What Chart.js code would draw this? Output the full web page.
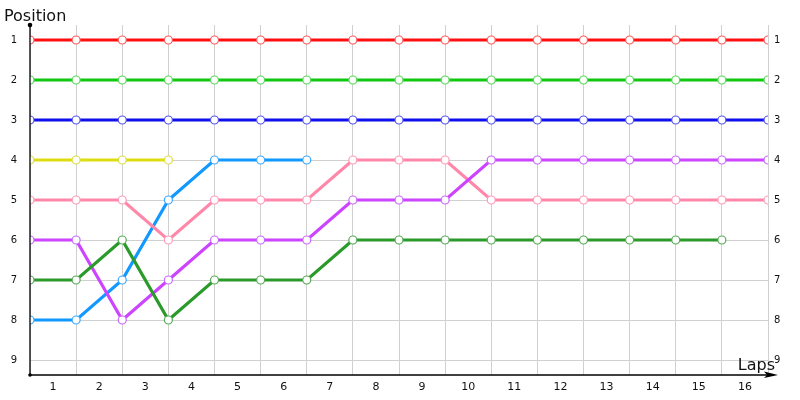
<!DOCTYPE html>
<html><head><meta charset="utf-8">
<script src="https://cdn.jsdelivr.net/npm/chart.js@4"></script>
<style>html,body{margin:0;padding:0;background:#fff}#wrap{width:800px;height:400px}</style>
</head><body><div id="wrap"><canvas id="c"></canvas></div>
<script>
const laps = [0,1,2,3,4,5,6,7,8,9,10,11,12,13,14,15,16];
const lapLabels = ['1','2','3','4','5','6','7','8','9','10','11','12','13','14','15','16'];
const positionTicks = [1,2,3,4,5,6,7,8,9];
const redPos      = [1,1,1,1,1,1,1,1,1,1,1,1,1,1,1,1,1];
const greenPos    = [2,2,2,2,2,2,2,2,2,2,2,2,2,2,2,2,2];
const bluePos     = [3,3,3,3,3,3,3,3,3,3,3,3,3,3,3,3,3];
const yellowPos   = [4,4,4,4];
const skyPos      = [8,8,7,5,4,4,4];
const pinkPos     = [5,5,5,6,5,5,5,4,4,4,5,5,5,5,5,5,5];
const purplePos   = [6,6,8,7,6,6,6,5,5,5,4,4,4,4,4,4,4];
const darkGreenPos= [7,7,6,8,7,7,7,6,6,6,6,6,6,6,6,6];

function pts(arr){ return arr.map((v,i)=>({x:laps[i],y:v})); }
function ds(arr,line,pt){
  return {data:pts(arr),borderColor:line,borderWidth:3.2,pointRadius:4,pointBorderWidth:1.2,
    pointBackgroundColor:'#fff',pointBorderColor:pt,tension:0,fill:false,pointHoverRadius:4};
}
const tickFont = {family:'DejaVu Sans',size:10};
const axesPlugin = {
  id:'axesDeco',
  afterDraw(chart){
    const ctx=chart.ctx, a=chart.chartArea;
    ctx.save();
    ctx.strokeStyle='#000'; ctx.lineWidth=1.3;
    ctx.beginPath(); ctx.moveTo(a.left,a.top); ctx.lineTo(a.left,a.bottom); ctx.stroke();
    ctx.beginPath(); ctx.moveTo(a.left,a.bottom); ctx.lineTo(a.right+2,a.bottom); ctx.stroke();
    ctx.fillStyle='#000';
    ctx.beginPath(); ctx.arc(a.left,a.top,2.3,0,Math.PI*2); ctx.fill();
    ctx.beginPath(); ctx.arc(a.left,a.bottom,1.8,0,Math.PI*2); ctx.fill();
    ctx.beginPath(); ctx.moveTo(a.right+10,a.bottom); ctx.lineTo(a.right-4,a.bottom-3.5); ctx.lineTo(a.right-1,a.bottom); ctx.lineTo(a.right-4,a.bottom+3); ctx.closePath(); ctx.fill();
    ctx.font='16px "DejaVu Sans"'; ctx.fillStyle='#111'; ctx.textBaseline='alphabetic';
    ctx.textAlign='left'; ctx.fillText('Position',4,21);
    ctx.textAlign='right'; ctx.fillText('Laps',a.right+7,a.bottom-5);
    ctx.restore();
  }
};
new Chart(document.getElementById('c'),{
  type:'line',
  data:{datasets:[
    ds(redPos,'#ff0f0f','#ff5a5a'),
    ds(greenPos,'#10c810','#55d855'),
    ds(bluePos,'#1010ee','#5555ee'),
    ds(yellowPos,'#dddd10','#dddd40'),
    ds(darkGreenPos,'#2a9a2a','#55aa55'),
    ds(purplePos,'#cc44ff','#cc66ff'),
    ds(pinkPos,'#ff88aa','#ff99bb'),
    ds(skyPos,'#1199ff','#3aa8ff')
  ]},
  plugins:[axesPlugin],
  options:{
    responsive:true,maintainAspectRatio:false,animation:false,
    layout:{padding:{top:25,left:0,right:0,bottom:0}},
    plugins:{legend:{display:false},tooltip:{enabled:false}},
    scales:{
      x:{type:'linear',min:0,max:16,position:'bottom',
        afterBuildTicks(s){ const t=[]; for(let i=0;i<=16;i++){t.push({value:i}); if(i<16)t.push({value:i+0.5});} s.ticks=t; },
        afterFit(s){ s.height=25; },
        grid:{color:(c)=> (c.tick && Number.isInteger(c.tick.value)) ? '#d0d0d0':'rgba(0,0,0,0)',drawTicks:false,lineWidth:1},
        border:{display:false},
        ticks:{autoSkip:false,maxRotation:0,padding:6,color:'#111',font:{family:'DejaVu Sans',size:11},
          callback:(v)=> Number.isInteger(v)?'':lapLabels[Math.floor(v)]}
      },
      y:{type:'linear',reverse:true,min:0.625,max:9.375,position:'left',
        afterBuildTicks(s){ s.ticks=positionTicks.map(v=>({value:v})); },
        afterFit(s){ s.width=30; },
        grid:{color:'#d0d0d0',drawTicks:false,lineWidth:1},
        border:{display:false},
        ticks:{padding:13,color:'#111',font:tickFont}
      },
      y2:{type:'linear',reverse:true,min:0.625,max:9.375,position:'right',
        afterBuildTicks(s){ s.ticks=positionTicks.map(v=>({value:v})); },
        afterFit(s){ s.width=32; },
        grid:{display:false,drawTicks:false},
        border:{display:false},
        ticks:{padding:6,color:'#111',font:tickFont}
      }
    }
  }
});
</script></body></html>
